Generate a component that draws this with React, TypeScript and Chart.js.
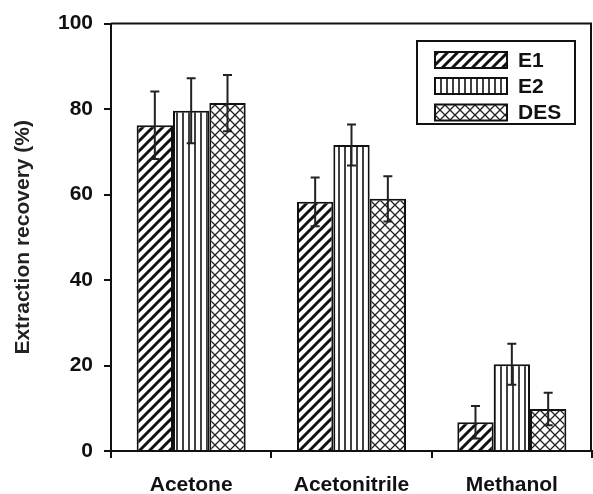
import React, { useEffect, useRef } from "react";
import { Chart, registerables } from "chart.js";

Chart.register(...registerables);

const categories = ["Acetone", "Acetonitrile", "Methanol"];
const seriesNames = ["E1", "E2", "DES"];
const e1Values = [76.2, 58.3, 6.7];
const e2Values = [79.6, 71.6, 20.3];
const desValues = [81.4, 59.0, 9.8];
const e1Errors = [7.9, 5.7, 3.8];
const e2Errors = [7.6, 4.8, 4.8];
const desErrors = [6.6, 5.3, 3.8];
const yTicks = [0, 20, 40, 60, 80, 100];

const FONT = "'Liberation Sans', Arial, sans-serif";

function makeTile(size: number, draw: (ctx: CanvasRenderingContext2D) => void) {
  const c = document.createElement("canvas");
  c.width = size;
  c.height = size;
  const ctx = c.getContext("2d")!;
  ctx.fillStyle = "#fff";
  ctx.fillRect(0, 0, size, size);
  draw(ctx);
  return c;
}

function makePatterns(ctx: CanvasRenderingContext2D) {
  const diag = makeTile(10, (t) => {
    t.strokeStyle = "#111";
    t.lineWidth = 3;
    t.lineCap = "square";
    t.beginPath();
    t.moveTo(-2, 12);
    t.lineTo(12, -2);
    t.moveTo(-7, 7);
    t.lineTo(7, -7);
    t.moveTo(3, 17);
    t.lineTo(17, 3);
    t.stroke();
  });
  const vert = makeTile(6, (t) => {
    t.strokeStyle = "#111";
    t.lineWidth = 1.6;
    t.beginPath();
    t.moveTo(3, 0);
    t.lineTo(3, 6);
    t.stroke();
  });
  const cross = makeTile(10, (t) => {
    t.strokeStyle = "#222";
    t.lineWidth = 1.3;
    t.beginPath();
    t.moveTo(0, 0);
    t.lineTo(10, 10);
    t.moveTo(10, 0);
    t.lineTo(0, 10);
    t.stroke();
  });
  return [
    ctx.createPattern(diag, "repeat")!,
    ctx.createPattern(vert, "repeat")!,
    ctx.createPattern(cross, "repeat")!,
  ];
}

export default function App() {
  const ref = useRef<HTMLCanvasElement | null>(null);

  useEffect(() => {
    document.body.style.margin = "0";
    const canvas = ref.current!;
    const ctx = canvas.getContext("2d")!;
    const patterns = makePatterns(ctx);
    const errors = [e1Errors, e2Errors, desErrors];

    const errorBars = {
      id: "errorBars",
      afterDatasetsDraw(chart: any) {
        const c = chart.ctx;
        const ys = chart.scales.y;
        c.save();
        c.strokeStyle = "#222";
        c.lineWidth = 2;
        chart.data.datasets.forEach((ds: any, i: number) => {
          const meta = chart.getDatasetMeta(i);
          meta.data.forEach((el: any, j: number) => {
            const v = ds.data[j];
            const e = errors[i][j];
            const x = el.x;
            const yTop = ys.getPixelForValue(v + e);
            const yBot = ys.getPixelForValue(v - e);
            c.beginPath();
            c.moveTo(x, yTop);
            c.lineTo(x, yBot);
            c.moveTo(x - 4.5, yTop);
            c.lineTo(x + 4.5, yTop);
            c.moveTo(x - 4.5, yBot);
            c.lineTo(x + 4.5, yBot);
            c.stroke();
          });
        });
        c.restore();
      },
    };

    const frameAndLegend = {
      id: "frameAndLegend",
      afterDraw(chart: any) {
        const c = chart.ctx;
        const a = chart.chartArea;
        c.save();
        c.strokeStyle = "#111";
        c.lineWidth = 2;
        c.beginPath();
        c.moveTo(a.left, a.top);
        c.lineTo(a.right - 1, a.top);
        c.lineTo(a.right - 1, a.bottom);
        c.stroke();

        // legend box
        const bx = 417, by = 41, bw = 158, bh = 83;
        c.fillStyle = "#fff";
        c.fillRect(bx, by, bw, bh);
        c.lineWidth = 2;
        c.strokeRect(bx, by, bw, bh);
        const rowY = [60, 86, 112.5];
        seriesNames.forEach((name, i) => {
          const sx = 435, sw = 72, sh = 16;
          const sy = rowY[i] - sh / 2;
          c.fillStyle = patterns[i];
          c.fillRect(sx, sy, sw, sh);
          c.strokeStyle = "#111";
          c.lineWidth = 2;
          c.strokeRect(sx, sy, sw, sh);
          c.fillStyle = "#111";
          c.font = `bold 21px ${FONT}`;
          c.textBaseline = "middle";
          c.textAlign = "left";
          c.fillText(name, 518, rowY[i] + 1);
        });
        c.restore();
      },
    };

    const chart = new Chart(canvas, {
      type: "bar",
      data: {
        labels: categories,
        datasets: [
          { label: seriesNames[0], data: e1Values, backgroundColor: patterns[0] as any, borderColor: "#111", borderWidth: 2 },
          { label: seriesNames[1], data: e2Values, backgroundColor: patterns[1] as any, borderColor: "#111", borderWidth: 2 },
          { label: seriesNames[2], data: desValues, backgroundColor: patterns[2] as any, borderColor: "#111", borderWidth: 2 },
        ],
      },
      options: {
        responsive: false,
        animation: false,
        layout: { padding: { top: 22, right: 1, left: 0, bottom: 0 } },
        datasets: { bar: { categoryPercentage: 0.68, barPercentage: 1 } },
        plugins: { legend: { display: false }, tooltip: { enabled: false } },
        scales: {
          x: {
            afterFit: (s: any) => { s.height = 43; },
            grid: { display: true, drawOnChartArea: false, drawTicks: true, tickLength: 7, color: "#111", lineWidth: 2, offset: true },
            border: { display: true, color: "#111", width: 2 },
            ticks: { color: "#111", font: { family: FONT, size: 21, weight: "bold" }, padding: 15 },
          },
          y: {
            min: 0,
            max: 100,
            afterFit: (s: any) => { s.width = 111; },
            afterBuildTicks: (s: any) => { s.ticks = yTicks.map((v) => ({ value: v })); },
            grid: { display: true, drawOnChartArea: false, drawTicks: true, tickLength: 7, color: "#111", lineWidth: 2 },
            border: { display: true, color: "#111", width: 2 },
            ticks: { color: "#111", font: { family: FONT, size: 21, weight: "bold" }, padding: 11 },
            title: {
              display: true,
              text: "Extraction recovery (%)",
              color: "#222",
              font: { family: FONT, size: 21, weight: "bold" },
              padding: { top: 11, bottom: 0 },
            },
          },
        },
      },
      plugins: [errorBars, frameAndLegend],
    });
    return () => chart.destroy();
  }, []);

  return <canvas ref={ref} width={593} height={494} style={{ display: "block" }} />;
}
